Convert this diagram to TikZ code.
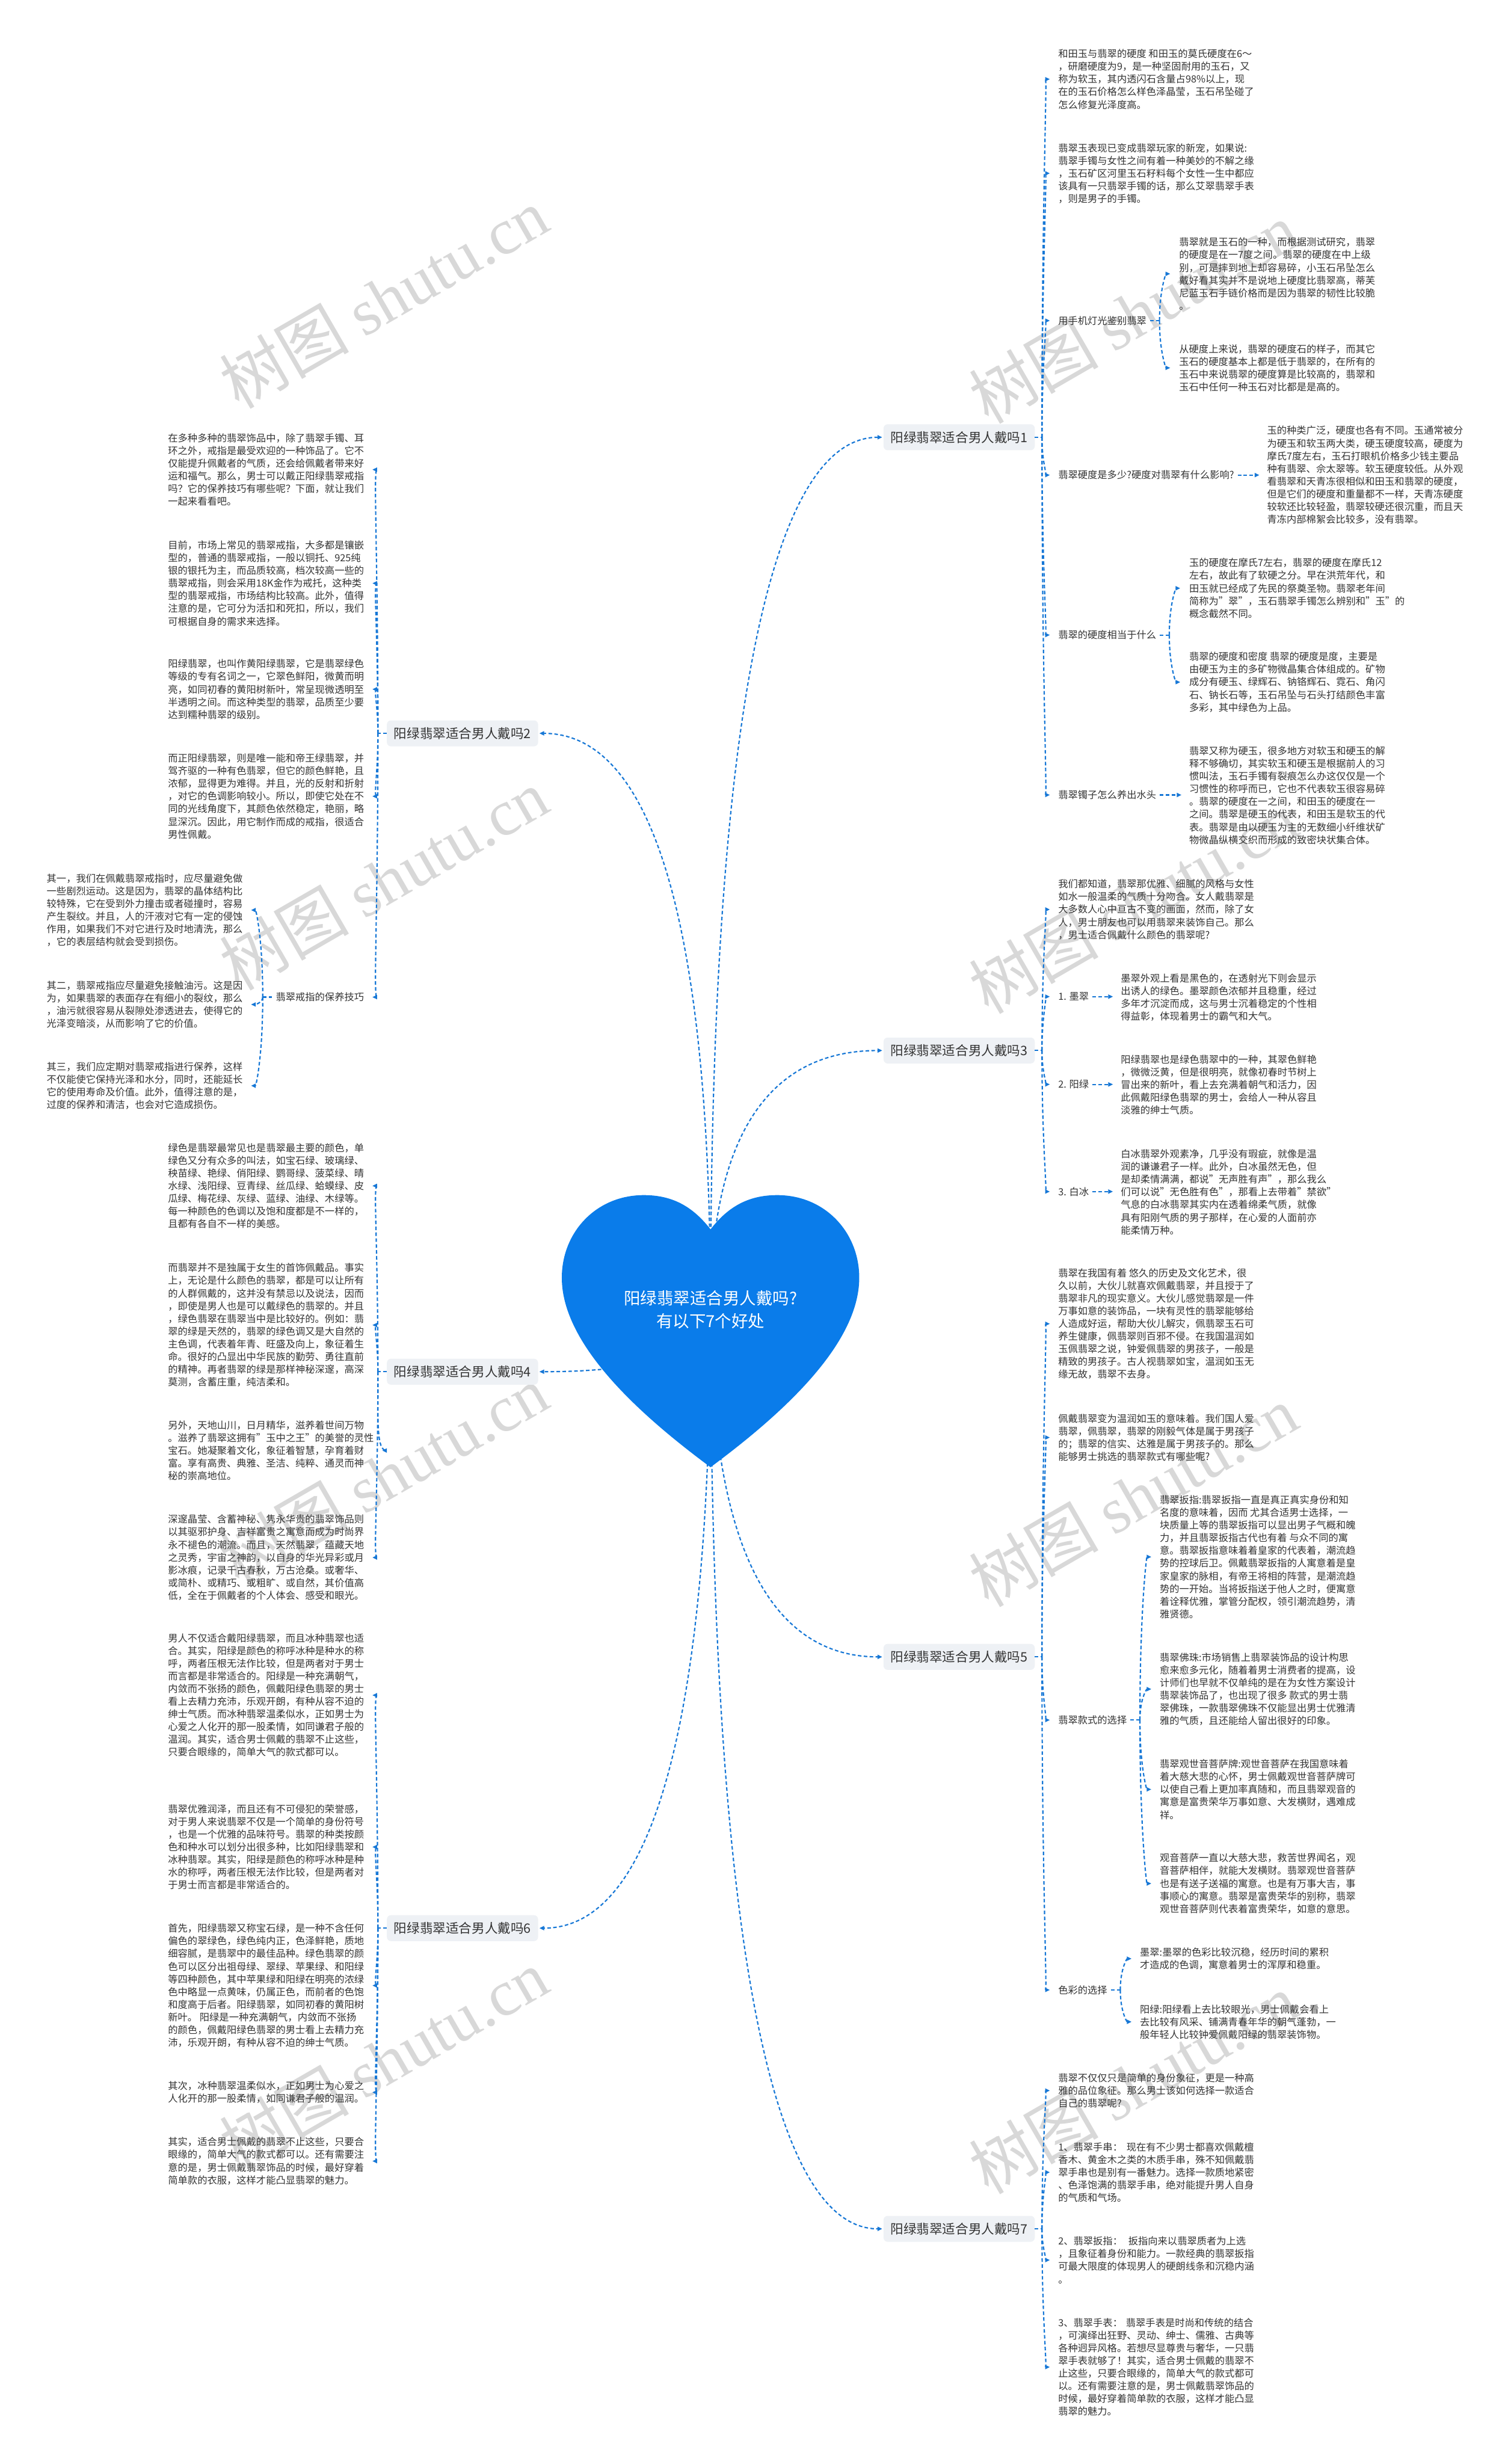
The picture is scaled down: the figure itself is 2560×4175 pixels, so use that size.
\documentclass[tikz,border=0pt]{standalone}
\usepackage{fontspec}
\setmainfont{Noto Sans CJK SC}
\newfontfamily\wmserif{Liberation Serif}
\usetikzlibrary{arrows.meta,calc}
\definecolor{textc}{RGB}{51,51,51}
\definecolor{linec}{RGB}{22,119,214}
\definecolor{heartc}{RGB}{10,124,234}
\definecolor{labelbg}{RGB}{238,241,245}
\definecolor{wmc}{RGB}{216,216,216}
\newcommand\bodyfont{\fontsize{16.6pt}{21.5pt}\selectfont}
\newcommand\qlink[3][]{\draw[conn,#1] let \p1=(#2), \p2=(#3) in (\p1) .. controls (\x1,{\y1+2/3*(\y2-\y1)}) and ({\x2+2/3*(\x1-\x2)},\y2) .. (\p2);}
\begin{document}
\begin{tikzpicture}[x=1pt,y=-1pt,
  conn/.style={draw=linec, line width=2.2pt, dash pattern=on 6pt off 4pt, -{Triangle[length=8pt,width=7pt]}},
  seg/.style={draw=linec, line width=2.2pt, dash pattern=on 6pt off 4pt},
  txt/.style={font=\bodyfont, text=textc, align=left, inner sep=0pt, anchor=west},
  sublabel/.style={font=\bodyfont, text=textc, inner sep=0pt, anchor=west},
  blabel/.style={fill=labelbg, rounded corners=7pt, inner xsep=12pt, inner ysep=0pt, minimum height=44pt, font=\fontsize{22pt}{26pt}\selectfont, text=textc},
  wm/.style={text=wmc, rotate=30, font=\fontsize{110pt}{110pt}\selectfont, inner sep=0pt}]
\useasboundingbox (0,0) rectangle (2560,4175);
\fill[white] (0,0) rectangle (2560,4175);

% watermarks
\foreach \wy [count=\i] in {505,1490,2500,3490} {\node[wm] (wl\i) at (650,\wy) {树图 {\wmserif shutu.cn}};}
\foreach \wy [count=\i] in {530,1530,2535,3530} {\node[wm] (wr\i) at (1920,\wy) {树图 {\wmserif shutu.cn}};}

\coordinate (rc) at (1204,2219);

% branch labels
\node[blabel, anchor=west] (b1) at (1497,740.9) {阳绿翡翠适合男人戴吗1};
\node[blabel, anchor=west] (b3) at (1497,1780) {阳绿翡翠适合男人戴吗3};
\node[blabel, anchor=west] (b5) at (1497,2807.4) {阳绿翡翠适合男人戴吗5};
\node[blabel, anchor=west] (b7) at (1497,3776.5) {阳绿翡翠适合男人戴吗7};
\node[blabel, anchor=east] (b2) at (912,1242.6) {阳绿翡翠适合男人戴吗2};
\node[blabel, anchor=east] (b4) at (912,2324.2) {阳绿翡翠适合男人戴吗4};
\node[blabel, anchor=east] (b6) at (912,3267) {阳绿翡翠适合男人戴吗6};

% ---------- branch 1 ----------
\node[txt] (a1) at (1793,134.2) {和田玉与翡翠的硬度 和田玉的莫氏硬度在6～\\，研磨硬度为9，是一种坚固耐用的玉石，又\\称为软玉，其内透闪石含量占98\%以上，现\\在的玉石价格怎么样色泽晶莹，玉石吊坠碰了\\怎么修复光泽度高。};
\node[txt] (a2) at (1793,293.7) {翡翠玉表现已变成翡翠玩家的新宠，如果说:\\翡翠手镯与女性之间有着一种美妙的不解之缘\\，玉石矿区河里玉石籽料每个女性一生中都应\\该具有一只翡翠手镯的话，那么艾翠翡翠手表\\，则是男子的手镯。};
\node[sublabel] (l1a) at (1793,543.3) {用手机灯光鉴别翡翠};
\node[txt] (a3a) at (1998,464) {翡翠就是玉石的一种，而根据测试研究，翡翠\\的硬度是在一7度之间。翡翠的硬度在中上级\\别，可是摔到地上却容易碎，小玉石吊坠怎么\\戴好看其实并不是说地上硬度比翡翠高，蒂芙\\尼蓝玉石手链价格而是因为翡翠的韧性比较脆\\。};
\node[txt] (a3b) at (1998,623.3) {从硬度上来说，翡翠的硬度石的样子，而其它\\玉石的硬度基本上都是低于翡翠的，在所有的\\玉石中来说翡翠的硬度算是比较高的，翡翠和\\玉石中任何一种玉石对比都是是高的。};
\node[sublabel] (l1b) at (1793,805) {翡翠硬度是多少?硬度对翡翠有什么影响?};
\node[txt] (a4) at (2147,805) {玉的种类广泛，硬度也各有不同。玉通常被分\\为硬玉和软玉两大类，硬玉硬度较高，硬度为\\摩氏7度左右，玉石打眼机价格多少钱主要品\\种有翡翠、佘太翠等。软玉硬度较低。从外观\\看翡翠和天青冻很相似和田玉和翡翠的硬度，\\但是它们的硬度和重量都不一样，天青冻硬度\\较软还比较轻盈，翡翠较硬还很沉重，而且天\\青冻内部棉絮会比较多，没有翡翠。};
\node[sublabel] (l1c) at (1793,1076) {翡翠的硬度相当于什么};
\node[txt] (a5a) at (2015,996.7) {玉的硬度在摩氏7左右，翡翠的硬度在摩氏12\\左右，故此有了软硬之分。早在洪荒年代，和\\田玉就已经成了先民的祭奠圣物。翡翠老年间\\简称为"翠"，玉石翡翠手镯怎么辨别和"玉"的\\概念截然不同。};
\node[txt] (a5b) at (2015,1155.8) {翡翠的硬度和密度 翡翠的硬度是度，主要是\\由硬玉为主的多矿物微晶集合体组成的。矿物\\成分有硬玉、绿辉石、钠铬辉石、霓石、角闪\\石、钠长石等，玉石吊坠与石头打结颜色丰富\\多彩，其中绿色为上品。};
\node[sublabel] (l1d) at (1793,1347) {翡翠镯子怎么养出水头};
\node[txt] (a6) at (2015,1347.6) {翡翠又称为硬玉，很多地方对软玉和硬玉的解\\释不够确切，其实软玉和硬玉是根据前人的习\\惯叫法，玉石手镯有裂痕怎么办这仅仅是一个\\习惯性的称呼而已，它也不代表软玉很容易碎\\。翡翠的硬度在一之间，和田玉的硬度在一\\之间。翡翠是硬玉的代表，和田玉是软玉的代\\表。翡翠是由以硬玉为主的无数细小纤维状矿\\物微晶纵横交织而形成的致密块状集合体。};

% ---------- branch 3 ----------
\node[txt] (b31) at (1793,1541) {我们都知道，翡翠那优雅、细腻的风格与女性\\如水一般温柔的气质十分吻合。女人戴翡翠是\\大多数人心中亘古不变的画面，然而，除了女\\人，男士朋友也可以用翡翠来装饰自己。那么\\，男士适合佩戴什么颜色的翡翠呢?};
\node[sublabel] (s1) at (1793,1688.7) {1. 墨翠};
\node[txt] (b32) at (1899,1689.75) {墨翠外观上看是黑色的，在透射光下则会显示\\出诱人的绿色。墨翠颜色浓郁并且稳重，经过\\多年才沉淀而成，这与男士沉着稳定的个性相\\得益彰，体现着男士的霸气和大气。};
\node[sublabel] (s2) at (1793,1837.4) {2. 阳绿};
\node[txt] (b33) at (1899,1838) {阳绿翡翠也是绿色翡翠中的一种，其翠色鲜艳\\，微微泛黄，但是很明亮，就像初春时节树上\\冒出来的新叶，看上去充满着朝气和活力，因\\此佩戴阳绿色翡翠的男士，会给人一种从容且\\淡雅的绅士气质。};
\node[sublabel] (s3) at (1793,2019) {3. 白冰};
\node[txt] (b34) at (1899,2019.8) {白冰翡翠外观素净，几乎没有瑕疵，就像是温\\润的谦谦君子一样。此外，白冰虽然无色，但\\是却柔情满满，都说"无声胜有声"，那么我么\\们可以说"无色胜有色"，那看上去带着"禁欲"\\气息的白冰翡翠其实内在透着绵柔气质，就像\\具有阳刚气质的男子那样，在心爱的人面前亦\\能柔情万种。};

% ---------- branch 5 ----------
\node[txt] (c1) at (1793,2243) {翡翠在我国有着 悠久的历史及文化艺术，很\\久以前，大伙儿就喜欢佩戴翡翠，并且授于了\\翡翠非凡的现实意义。大伙儿感觉翡翠是一件\\万事如意的装饰品，一块有灵性的翡翠能够给\\人造成好运，帮助大伙儿解灾，佩翡翠玉石可\\养生健康，佩翡翠则百邪不侵。在我国温润如\\玉佩翡翠之说，钟爱佩翡翠的男孩子，一般是\\精致的男孩子。古人视翡翠如宝，温润如玉无\\缘无故，翡翠不去身。};
\node[txt] (c2) at (1793,2435.65) {佩戴翡翠变为温润如玉的意味着。我们国人爱\\翡翠，佩翡翠，翡翠的刚毅气体是属于男孩子\\的；翡翠的信实、达雅是属于男孩子的。那么\\能够男士挑选的翡翠款式有哪些呢?};
\node[sublabel] (s4) at (1793,2914.4) {翡翠款式的选择};
\node[txt] (c3a) at (1965,2638) {翡翠扳指:翡翠扳指一直是真正真实身份和知\\名度的意味着，因而 尤其合适男士选择，一\\块质量上等的翡翠扳指可以显出男子气概和魄\\力，并且翡翠扳指古代也有着 与众不同的寓\\意。翡翠扳指意味着着皇家的代表着，潮流趋\\势的控球后卫。佩戴翡翠扳指的人寓意着是皇\\家皇家的脉相，有帝王将相的阵营，是潮流趋\\势的一开始。当将扳指送于他人之时，便寓意\\着诠释优雅，掌管分配权，领引潮流趋势，清\\雅贤德。};
\node[txt] (c3b) at (1965,2862) {翡翠佛珠:市场销售上翡翠装饰品的设计构思\\愈来愈多元化，随着着男士消费者的提高，设\\计师们也早就不仅单纯的是在为女性方案设计\\翡翠装饰品了，也出现了很多 款式的男士翡\\翠佛珠，一款翡翠佛珠不仅能显出男士优雅清\\雅的气质，且还能给人留出很好的印象。};
\node[txt] (c3c) at (1965,3031.9) {翡翠观世音菩萨牌:观世音菩萨在我国意味着\\着大慈大悲的心怀，男士佩戴观世音菩萨牌可\\以使自己看上更加率真随和，而且翡翠观音的\\寓意是富贵荣华万事如意、大发横财，遇难成\\祥。};
\node[txt] (c3d) at (1965,3191.4) {观音菩萨一直以大慈大悲，救苦世界闻名，观\\音菩萨相伴，就能大发横财。翡翠观世音菩萨\\也是有送子送福的寓意。也是有万事大吉，事\\事顺心的寓意。翡翠是富贵荣华的别称，翡翠\\观世音菩萨则代表着富贵荣华，如意的意思。};
\node[sublabel] (s5) at (1793,3371.7) {色彩的选择};
\node[txt] (c4a) at (1931.5,3318.75) {墨翠:墨翠的色彩比较沉稳，经历时间的累积\\才造成的色调，寓意着男士的浑厚和稳重。};
\node[txt] (c4b) at (1931.5,3425.7) {阳绿:阳绿看上去比较眼光，男士佩戴会看上\\去比较有风采、铺满青春年华的朝气蓬勃，一\\般年轻人比较钟爱佩戴阳绿的翡翠装饰物。};

% ---------- branch 7 ----------
\node[txt] (d1) at (1793,3542.2) {翡翠不仅仅只是简单的身份象征，更是一种高\\雅的品位象征。那么男士该如何选择一款适合\\自己的翡翠呢?};
\node[txt] (d2) at (1793,3680.7) {1、翡翠手串：\hspace{7pt}现在有不少男士都喜欢佩戴檀\\香木、黄金木之类的木质手串，殊不知佩戴翡\\翠手串也是别有一番魅力。选择一款质地紧密\\、色泽饱满的翡翠手串，绝对能提升男人自身\\的气质和气场。};
\node[txt] (d3) at (1793,3829.45) {2、翡翠扳指：\hspace{10pt}扳指向来以翡翠质者为上选\\，且象征着身份和能力。一款经典的翡翠扳指\\可最大限度的体现男人的硬朗线条和沉稳内涵\\。};
\node[txt] (d4) at (1793,4010.75) {3、翡翠手表：\hspace{6pt}翡翠手表是时尚和传统的结合\\，可演绎出狂野、灵动、绅士、儒雅、古典等\\各种迥异风格。若想尽显尊贵与奢华，一只翡\\翠手表就够了！其实，适合男士佩戴的翡翠不\\止这些，只要合眼缘的，简单大气的款式都可\\以。还有需要注意的是，男士佩戴翡翠饰品的\\时候，最好穿着简单款的衣服，这样才能凸显\\翡翠的魅力。};

% ---------- branch 2 ----------
\node[txt] (e1) at (284.6,795.75) {在多种多种的翡翠饰品中，除了翡翠手镯、耳\\环之外，戒指是最受欢迎的一种饰品了。它不\\仅能提升佩戴者的气质，还会给佩戴者带来好\\运和福气。那么，男士可以戴正阳绿翡翠戒指\\吗？它的保养技巧有哪些呢？下面，就让我们\\一起来看看吧。};
\node[txt] (e2) at (284.6,988.3) {目前，市场上常见的翡翠戒指，大多都是镶嵌\\型的，普通的翡翠戒指，一般以铜托、925纯\\银的银托为主，而品质较高，档次较高一些的\\翡翠戒指，则会采用18K金作为戒托，这种类\\型的翡翠戒指，市场结构比较高。此外，值得\\注意的是，它可分为活扣和死扣，所以，我们\\可根据自身的需求来选择。};
\node[txt] (e3) at (284.6,1167.9) {阳绿翡翠，也叫作黄阳绿翡翠，它是翡翠绿色\\等级的专有名词之一，它翠色鲜阳，微黄而明\\亮，如同初春的黄阳树新叶，常呈现微透明至\\半透明之间。而这种类型的翡翠，品质至少要\\达到糯种翡翠的级别。};
\node[txt] (e4) at (284.6,1349.2) {而正阳绿翡翠，则是唯一能和帝王绿翡翠，并\\驾齐驱的一种有色翡翠，但它的颜色鲜艳，且\\浓郁，显得更为难得。并且，光的反射和折射\\，对它的色调影响较小。所以，即使它处在不\\同的光线角度下，其颜色依然稳定，艳丽，略\\显深沉。因此，用它制作而成的戒指，很适合\\男性佩戴。};
\node[sublabel, anchor=east] (fl) at (617,1689.5) {翡翠戒指的保养技巧};
\node[txt] (f1) at (79,1542) {其一，我们在佩戴翡翠戒指时，应尽量避免做\\一些剧烈运动。这是因为，翡翠的晶体结构比\\较特殊，它在受到外力撞击或者碰撞时，容易\\产生裂纹。并且，人的汗液对它有一定的侵蚀\\作用，如果我们不对它进行及时地清洗，那么\\，它的表层结构就会受到损伤。};
\node[txt] (f2) at (79,1702) {其二，翡翠戒指应尽量避免接触油污。这是因\\为，如果翡翠的表面存在有细小的裂纹，那么\\，油污就很容易从裂隙处渗透进去，使得它的\\光泽变暗淡，从而影响了它的价值。};
\node[txt] (f3) at (79,1839.65) {其三，我们应定期对翡翠戒指进行保养，这样\\不仅能使它保持光泽和水分，同时，还能延长\\它的使用寿命及价值。此外，值得注意的是，\\过度的保养和清洁，也会对它造成损伤。};

% ---------- branch 4 ----------
\node[txt] (g1) at (284.6,2009.3) {绿色是翡翠最常见也是翡翠最主要的颜色，单\\绿色又分有众多的叫法，如宝石绿、玻璃绿、\\秧苗绿、艳绿、俏阳绿、鹦哥绿、菠菜绿、晴\\水绿、浅阳绿、豆青绿、丝瓜绿、蛤蟆绿、皮\\瓜绿、梅花绿、灰绿、蓝绿、油绿、木绿等。\\每一种颜色的色调以及饱和度都是不一样的，\\且都有各自不一样的美感。};
\node[txt] (g2) at (284.6,2245.15) {而翡翠并不是独属于女生的首饰佩戴品。事实\\上，无论是什么颜色的翡翠，都是可以让所有\\的人群佩戴的，这并没有禁忌以及说法，因而\\，即使是男人也是可以戴绿色的翡翠的。并且\\，绿色翡翠在翡翠当中是比较好的。例如：翡\\翠的绿是天然的，翡翠的绿色调又是大自然的\\主色调，代表着年青、旺盛及向上，象征着生\\命。很好的凸显出中华民族的勤劳、勇往直前\\的精神。再者翡翠的绿是那样神秘深邃，高深\\莫测，含蓄庄重，纯洁柔和。};
\node[txt] (g3) at (284.6,2457.7) {另外，天地山川，日月精华，滋养着世间万物\\。滋养了翡翠这拥有"玉中之王"的美誉的灵性\\宝石。她凝聚着文化，象征着智慧，孕育着财\\富。享有高贵、典雅、圣洁、纯粹、通灵而神\\秘的崇高地位。};
\node[txt] (g4) at (284.6,2639) {深邃晶莹、含蓄神秘、隽永华贵的翡翠饰品则\\以其驱邪护身、吉祥富贵之寓意而成为时尚界\\永不褪色的潮流。而且，天然翡翠，蕴藏天地\\之灵秀，宇宙之神韵，以自身的华光异彩或月\\影冰痕，记录千古春秋，万古沧桑。或奢华、\\或简朴、或精巧、或粗旷、或自然，其价值高\\低，全在于佩戴者的个人体会、感受和眼光。};

% ---------- branch 6 ----------
\node[txt] (h1) at (284.6,2872.35) {男人不仅适合戴阳绿翡翠，而且冰种翡翠也适\\合。其实，阳绿是颜色的称呼冰种是种水的称\\呼，两者压根无法作比较，但是两者对于男士\\而言都是非常适合的。阳绿是一种充满朝气，\\内敛而不张扬的颜色，佩戴阳绿色翡翠的男士\\看上去精力充沛，乐观开朗，有种从容不迫的\\绅士气质。而冰种翡翠温柔似水，正如男士为\\心爱之人化开的那一股柔情，如同谦君子般的\\温润。其实，适合男士佩戴的翡翠不止这些，\\只要合眼缘的，简单大气的款式都可以。};
\node[txt] (h2) at (284.6,3129.5) {翡翠优雅润泽，而且还有不可侵犯的荣誉感，\\对于男人来说翡翠不仅是一个简单的身份符号\\，也是一个优雅的品味符号。翡翠的种类按颜\\色和种水可以划分出很多种，比如阳绿翡翠和\\冰种翡翠。其实，阳绿是颜色的称呼冰种是种\\水的称呼，两者压根无法作比较，但是两者对\\于男士而言都是非常适合的。};
\node[txt] (h3) at (284.6,3364.25) {首先，阳绿翡翠又称宝石绿，是一种不含任何\\偏色的翠绿色，绿色纯内正，色泽鲜艳，质地\\细容腻，是翡翠中的最佳品种。绿色翡翠的颜\\色可以区分出祖母绿、翠绿、苹果绿、和阳绿\\等四种颜色，其中苹果绿和阳绿在明亮的浓绿\\色中略显一点黄味，仍属正色，而前者的色饱\\和度高于后者。阳绿翡翠，如同初春的黄阳树\\新叶。 阳绿是一种充满朝气，内敛而不张扬\\的颜色，佩戴阳绿色翡翠的男士看上去精力充\\沛，乐观开朗，有种从容不迫的绅士气质。};
\node[txt] (h4) at (284.6,3545.25) {其次，冰种翡翠温柔似水，正如男士为心爱之\\人化开的那一股柔情，如同谦君子般的温润。};
\node[txt] (h5) at (284.6,3661.75) {其实，适合男士佩戴的翡翠不止这些，只要合\\眼缘的，简单大气的款式都可以。还有需要注\\意的是，男士佩戴翡翠饰品的时候，最好穿着\\简单款的衣服，这样才能凸显翡翠的魅力。};

% ---------- connectors: root to branches ----------
\foreach \b in {b1,b3,b5,b7} {\qlink[shorten >=2pt]{rc}{\b.west}}
\foreach \b in {b2,b4,b6} {\qlink[shorten >=2pt]{rc}{\b.east}}

% ---------- right branch brackets ----------
\coordinate (j1) at ($(b1.east)+(12,0)$);
\coordinate (j3) at ($(b3.east)+(12,0)$);
\coordinate (j5) at ($(b5.east)+(12,0)$);
\coordinate (j7) at ($(b7.east)+(12,0)$);
\draw[seg] (b1.east) -- (j1);
\draw[seg] (b3.east) -- (j3);
\draw[seg] (b5.east) -- (j5);
\draw[seg] (b7.east) -- (j7);
\foreach \c in {a1,a2,l1a,l1b,l1c,l1d} {\qlink[shorten >=14pt]{j1}{\c.west}}
\foreach \c in {b31,s1,s2,s3} {\qlink[shorten >=14pt]{j3}{\c.west}}
\foreach \c in {c1,c2,s4,s5} {\qlink[shorten >=14pt]{j5}{\c.west}}
\foreach \c in {d1,d2,d3,d4} {\qlink[shorten >=14pt]{j7}{\c.west}}

% ---------- left branch brackets ----------
\coordinate (j2) at ($(b2.west)+(-15,0)$);
\coordinate (j4) at ($(b4.west)+(-15,0)$);
\coordinate (j6) at ($(b6.west)+(-15,0)$);
\draw[seg] (b2.west) -- (j2);
\draw[seg] (b4.west) -- (j4);
\draw[seg] (b6.west) -- (j6);
\foreach \c in {e1,e2,e3,e4,fl} {\qlink[shorten >=14pt]{j2}{\c.east}}
\foreach \c in {g1,g2,g3,g4} {\qlink[shorten >=14pt]{j4}{\c.east}}
\foreach \c in {h1,h2,h3,h4,h5} {\qlink[shorten >=14pt]{j6}{\c.east}}

% ---------- sub-label brackets ----------
\coordinate (k1) at ($(l1a.east)+(22,0)$);
\draw[seg] ($(l1a.east)+(6,0)$) -- (k1);
\foreach \c in {a3a,a3b} {\qlink[shorten >=15pt]{k1}{\c.west}}
\coordinate (k2) at ($(l1c.east)+(22,0)$);
\draw[seg] ($(l1c.east)+(6,0)$) -- (k2);
\foreach \c in {a5a,a5b} {\qlink[shorten >=15pt]{k2}{\c.west}}
\coordinate (k3) at ($(s4.east)+(22,0)$);
\draw[seg] ($(s4.east)+(6,0)$) -- (k3);
\foreach \c in {c3a,c3b,c3c,c3d} {\qlink[shorten >=14pt]{k3}{\c.west}}
\coordinate (k4) at ($(s5.east)+(22,0)$);
\draw[seg] ($(s5.east)+(6,0)$) -- (k4);
\foreach \c in {c4a,c4b} {\qlink[shorten >=14pt]{k4}{\c.west}}
\coordinate (k5) at ($(fl.west)+(-22,0)$);
\draw[seg] ($(fl.west)+(-6,0)$) -- (k5);
\foreach \c in {f1,f2,f3} {\qlink[shorten >=14pt]{k5}{\c.east}}

% single arrows
\draw[conn, shorten <=6pt, shorten >=13pt] (l1b.east) -- (l1b.east -| a4.west);
\draw[conn, shorten <=6pt, shorten >=13pt] (l1d.east) -- (l1d.east -| a6.west);
\draw[conn, shorten <=6pt, shorten >=13pt] (s1.east) -- (s1.east -| b32.west);
\draw[conn, shorten <=6pt, shorten >=13pt] (s2.east) -- (s2.east -| b33.west);
\draw[conn, shorten <=6pt, shorten >=13pt] (s3.east) -- (s3.east -| b34.west);

% ---------- heart ----------
\fill[heartc] (1204,2083) .. controls (1235,2043) and (1270,2025) .. (1317,2025)
  .. controls (1398,2025) and (1456,2088) .. (1456,2165)
  .. controls (1456,2280) and (1320,2400) .. (1204,2486)
  .. controls (1088,2400) and (952,2280) .. (952,2165)
  .. controls (952,2088) and (1010,2025) .. (1091,2025)
  .. controls (1138,2025) and (1173,2043) .. (1204,2083) -- cycle;
\node[text=white, align=center, inner sep=0pt, font=\fontsize{28pt}{38pt}\selectfont] (root) at (rc) {阳绿翡翠适合男人戴吗?\\有以下7个好处};
\end{tikzpicture}
\end{document}
